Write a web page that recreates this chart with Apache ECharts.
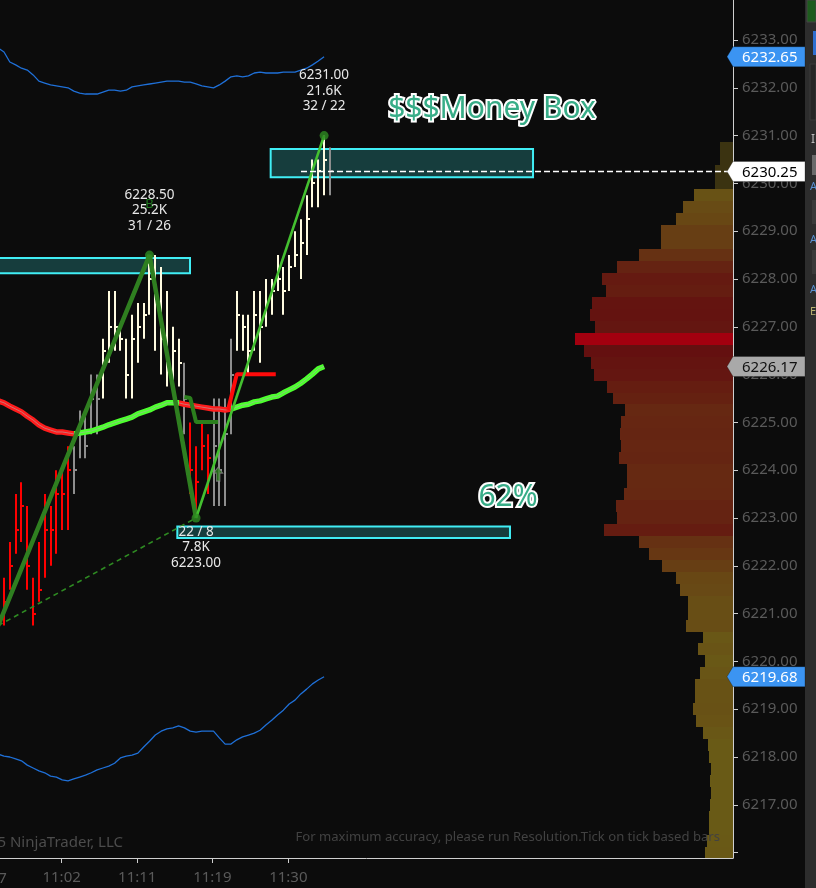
<!DOCTYPE html>
<html><head><meta charset="utf-8">
<script src="https://cdn.jsdelivr.net/npm/echarts@6/dist/echarts.min.js"></script>
<style>html,body{margin:0;padding:0;background:#0c0c0c;overflow:hidden}#chart{width:816px;height:888px}</style>
</head><body><div id="chart"></div>
<script>
// ---------- DATA ----------
// OHLC-style range bars (index 0..56), kinds: u=up(cream) d=down(red) n=neutral(gray)
const barKinds = "dddddddddddd nnnnn uuuuuuuuuuuuuu n dddd nnnn uuuuuuuuuuuuuuuu n".replace(/ /g, '').split('');
const highs = [6221.75,6222.5,6223.5,6223.75,6223.25,6221.75,6222.5,6223.5,6223.25,6224.0,6224.0,6224.5,
  6224.5,6225.25,6225.25,6226.0,6226.0,
  6226.75,6227.75,6227.75,6227.0,6226.75,6227.25,6227.5,6227.5,6228.5,6228.5,6228.25,6227.75,6227.0,6226.75,
  6226.25,
  6225.0,6224.5,6225.0,6224.75,
  6225.5,6225.5,6225.5,6226.75,
  6227.75,6227.25,6227.25,6227.75,6227.75,6228.0,6228.0,6228.5,6228.25,6228.5,6229.0,6229.25,6229.75,6230.5,6230.5,6231.0,
  6230.75];
const lows = [6220.75,6221.5,6222.25,6222.5,6221.5,6220.75,6221.25,6221.75,6222.0,6222.25,6222.75,6222.75,
  6223.5,6224.25,6224.25,6224.75,6224.75,
  6225.5,6226.25,6226.5,6226.5,6225.5,6225.5,6226.25,6226.75,6227.25,6226.5,6226.0,6225.75,6225.75,6225.75,
  6224.75,
  6223.5,6223.0,6224.0,6223.5,
  6223.25,6223.25,6223.25,6224.75,
  6226.5,6226.5,6226.0,6226.5,6226.25,6227.0,6227.25,6227.75,6227.25,6227.75,6228.25,6228.0,6228.5,6229.5,6229.5,6229.75,
  6229.75];
const closes = [6221.25,6222.0,6222.75,6223.25,6222.0,6221.0,6221.5,6222.75,6222.75,6223.5,6223.5,6224.0,
  6224.0,6224.75,6224.5,6225.5,6225.5,
  6226.5,6227.0,6227.0,6226.75,6226.0,6226.75,6227.0,6227.25,6228.0,6227.5,6226.75,6226.25,6226.5,6226.25,
  6225.5,
  6224.0,6223.75,6224.5,6224.25,
  6224.5,6224.0,6224.75,6226.0,
  6227.25,6227.0,6226.5,6227.25,6227.0,6227.5,6227.75,6228.0,6227.75,6228.25,6228.5,6228.75,6229.25,6230.0,6230.25,6230.5,
  6230.25];

// indicator lines, starting at bar index -1
const lineStart = -1;
const upperBand = [6232.83,6232.75,6232.54,6232.48,6232.41,6232.37,6232.27,6232.14,6232.10,6232.06,6232.04,6232.02,6232.00,6231.93,6231.89,6231.87,6231.87,6231.87,6231.91,6231.95,6231.95,6231.93,6231.95,6232.02,6232.04,6232.06,6232.08,6232.10,6232.12,6232.14,6232.14,6232.14,6232.12,6232.12,6232.08,6232.04,6232.02,6232.00,6232.06,6232.14,6232.23,6232.25,6232.23,6232.25,6232.31,6232.33,6232.31,6232.31,6232.31,6232.33,6232.33,6232.33,6232.37,6232.41,6232.48,6232.56,6232.65];
const lowerBand = [6218.06,6218.02,6218.00,6217.96,6217.92,6217.83,6217.77,6217.71,6217.67,6217.60,6217.58,6217.52,6217.50,6217.54,6217.58,6217.62,6217.67,6217.73,6217.77,6217.81,6217.87,6217.98,6218.02,6218.04,6218.08,6218.21,6218.33,6218.46,6218.54,6218.59,6218.61,6218.65,6218.61,6218.54,6218.52,6218.54,6218.54,6218.54,6218.40,6218.27,6218.27,6218.36,6218.42,6218.46,6218.50,6218.56,6218.67,6218.77,6218.88,6218.98,6219.11,6219.19,6219.32,6219.42,6219.53,6219.61,6219.68];
const movingAvg = [6225.45,6225.41,6225.34,6225.28,6225.22,6225.13,6225.05,6224.95,6224.88,6224.84,6224.80,6224.80,6224.78,6224.76,6224.78,6224.80,6224.82,6224.86,6224.90,6224.95,6224.99,6225.03,6225.07,6225.11,6225.18,6225.22,6225.26,6225.32,6225.36,6225.41,6225.41,6225.41,6225.38,6225.36,6225.34,6225.32,6225.30,6225.28,6225.28,6225.26,6225.28,6225.32,6225.36,6225.38,6225.43,6225.45,6225.49,6225.53,6225.55,6225.62,6225.68,6225.74,6225.82,6225.91,6226.01,6226.12,6226.17];
const maTrendBreaks = [12, 30, 39]; // red -> green -> red -> green
const stopLine = [[38.5,6225.26],[40,6226.01],[46.7,6226.01]];
const darkGreenStep = [[31,6225.53],[32,6225.51],[33,6225.01],[36.8,6225.01]];

// zigzag swings
const zigzagMain = [[-1,6220.75],[25,6228.5],[33,6223.0]];
const zigzagLast = [[33,6223.0],[55,6231.0]];
const zigzagDashed = [[-1,6220.75],[33,6223.0]];
const swingDots = [[25,6228.5],[33,6223.0],[55,6231.0]];
const swingLabels = [
  {i:25, p:6228.5, lines:['6228.50','25.2K','31 / 26'], below:false},
  {i:55, p:6231.0, lines:['6231.00','21.6K','32 / 22'], below:false},
  {i:33, p:6223.0, lines:['22 / 8','7.8K','6223.00'], below:true}
];
const arrowSignals = [[36.8, 6223.92]];

// zones [fromIndex, toIndex, topPrice, bottomPrice]
const zones = [[-6, 31.96, 6228.44, 6228.12],[45.82, 90.9, 6230.72, 6230.13],[29.78, 86.94, 6222.82, 6222.58]];
const lastPrice = 6230.25;
const lastPriceFrom = 51.03;

// volume profile (price levels, top -> bottom, step 0.25)
const profileTop = 6230.75;
const profileVolumes = [13,13,18,18,39,50,57,72,72,94,116,131,127,141,143,138,158,149,142,139,126,120,108,112,113,112,114,106,106,109,117,116,129,94,84,71,57,53,45,45,47,30,35,28,33,38,38,40,37,30,25,24,22,23,22,23,24,24,26,28];
const dimLevels = [6230.75, 6230.5, 6230.25, 6230.0];

// axes
const priceTicks = [6216,6217,6218,6219,6220,6221,6222,6223,6224,6225,6226,6227,6228,6229,6230,6231,6232,6233];
const priceLabels = [6217,6218,6219,6220,6221,6222,6223,6224,6225,6226,6227,6228,6229,6230,6231,6232,6233];
const timeTicks = [9.9, 22.9, 35.8, 48.85];
const timeLabels = ['11:02','11:11','11:19','11:30'];
const hiddenTime = {i:-2.8, label:'10:57'};

// price markers on axis
const markers = [
  {p:6232.65, bg:'#3b94f2', fg:'#ffffff'},
  {p:6230.25, bg:'#ffffff', fg:'#000000'},
  {p:6226.17, bg:'#a9a9a9', fg:'#111111'},
  {p:6219.68, bg:'#3b94f2', fg:'#ffffff'}
];
const annotations = [
  {i:83.85, p:6231.54, text:'$$$Money Box'},
  {i:86.6, p:6223.44, text:'62%'}
];

// ---------- CHART ----------
const FONT = '"Noto Sans", "Open Sans", sans-serif';
const kindCode = {u:0, d:1, n:2};
const kindColor = ['#fffbe0', '#ff0000', '#8e8e8e'];
const barData = highs.map((h, i) => [i, h, lows[i], closes[i], kindCode[barKinds[i]]]);
const toLine = arr => arr.map((v, k) => [lineStart + k, v]);
const maxVol = Math.max(...profileVolumes);
const profileData = profileVolumes.map((v, k) => {
  const p = profileTop - 0.25 * k;
  return [v, p, dimLevels.indexOf(p) >= 0 ? 1 : 0];
});
function profColor(v) {
  if (v === maxVol) return '#a3000f';
  const t = Math.min(1, Math.max(0, (v - 25) / 125));
  return 'rgb(' + Math.round(105 - 5 * t) + ',' + Math.round(90 - 75 * t) + ',' + Math.round(22 - 6 * t) + ')';
}

const XMIN = -0.687, XMAX = 125.26;
const option = {
  backgroundColor: '#0c0c0c',
  animation: false,
  grid: {left: 0, top: 0, width: 733, height: 858, show: false},
  xAxis: [
    {type: 'value', min: XMIN, max: XMAX,
      axisLine: {show: true, onZero: false, lineStyle: {color: '#cfcfcf', width: 1}},
      axisTick: {show: true, customValues: timeTicks, length: 5, lineStyle: {color: '#cfcfcf'}},
      axisLabel: {show: true, customValues: timeTicks, color: '#5a5a5a', fontSize: 15, fontFamily: FONT, margin: 12,
        formatter: v => { const k = timeTicks.findIndex(t => Math.abs(t - v) < 1e-6); return k >= 0 ? timeLabels[k] : ''; }},
      splitLine: {show: false}},
    {type: 'value', min: 0, max: 733, inverse: true, show: false, position: 'top'}
  ],
  yAxis: [
    {type: 'value', position: 'right', min: 6215.887, max: 6233.837,
      axisLine: {show: true, onZero: false, lineStyle: {color: '#cfcfcf', width: 1}},
      axisTick: {show: true, customValues: priceTicks, length: 5, lineStyle: {color: '#cfcfcf'}},
      axisLabel: {show: true, customValues: priceLabels, color: '#5a5a5a', fontSize: 15, fontFamily: FONT, margin: 9,
        formatter: v => Number(v).toFixed(2)},
      splitLine: {show: false}}
  ],
  visualMap: [{
    type: 'piecewise', show: false, seriesIndex: [4], dimension: 0,
    pieces: [
      {lt: maTrendBreaks[0], color: '#ff1c1c'},
      {gte: maTrendBreaks[0], lt: maTrendBreaks[1], color: '#4dff2e'},
      {gte: maTrendBreaks[1], lt: maTrendBreaks[2], color: '#ff1c1c'},
      {gte: maTrendBreaks[2], color: '#4dff2e'}
    ]
  }],
  series: [
    // 0 volume profile
    {type: 'custom', xAxisIndex: 1, yAxisIndex: 0, z: 1, data: profileData, clip: true,
      renderItem: (params, api) => {
        const v = api.value(0), p = api.value(1), dim = api.value(2);
        const a = api.coord([v, p + 0.125]);
        const b = api.coord([0, p - 0.125]);
        const x = Math.round(a[0]), y = Math.round(a[1]);
        return {type: 'rect', shape: {x: x, y: y, width: Math.round(b[0]) - x, height: Math.round(b[1]) - y},
          style: {fill: profColor(v), opacity: dim ? 0.5 : 1}};
      }},
    // 1 zones
    {type: 'custom', xAxisIndex: 0, yAxisIndex: 0, z: 2, data: zones, clip: true,
      renderItem: (params, api) => {
        const a = api.coord([api.value(0), api.value(2)]);
        const b = api.coord([api.value(1), api.value(3)]);
        return {type: 'rect', shape: {x: a[0], y: a[1], width: b[0] - a[0], height: b[1] - a[1]},
          style: {fill: '#163d3d', stroke: '#40eef5', lineWidth: 2}};
      }},
    // 2 upper band
    {type: 'line', data: toLine(upperBand), symbol: 'none', z: 3, lineStyle: {color: '#1f70d8', width: 1.3}},
    // 3 lower band
    {type: 'line', data: toLine(lowerBand), symbol: 'none', z: 3, lineStyle: {color: '#1f70d8', width: 1.3}},
    // 4 moving average (colored by trend)
    {type: 'line', data: toLine(movingAvg), symbol: 'none', z: 6, lineStyle: {width: 5.5}},
    // 5 moving average center stripe
    {type: 'line', data: toLine(movingAvg), symbol: 'none', z: 7, lineStyle: {width: 1, color: 'rgba(170,170,170,0.6)'}},
    // 6 bars
    {type: 'custom', xAxisIndex: 0, yAxisIndex: 0, z: 5, data: barData, clip: true,
      renderItem: (params, api) => {
        const i = api.value(0), hi = api.value(1), lo = api.value(2), cl = api.value(3), k = api.value(4);
        const a = api.coord([i, hi]), b = api.coord([i, lo]), c = api.coord([i, cl]);
        const col = kindColor[k];
        const x = Math.round(a[0]);
        return {type: 'group', children: [
          {type: 'rect', shape: {x: x - 1, y: a[1], width: 2, height: b[1] - a[1]}, style: {fill: col}},
          {type: 'rect', shape: {x: x + 1, y: Math.round(c[1]) - 1, width: 2, height: 2}, style: {fill: col}}
        ]};
      }},
    // 7 stop line
    {type: 'line', data: stopLine, symbol: 'none', z: 8, lineStyle: {color: '#ff0a0a', width: 4}},
    // 8 dark green step
    {type: 'line', data: darkGreenStep, symbol: 'none', z: 8, lineStyle: {color: '#2b7f1d', width: 4}},
    // 9 zigzag dashed
    {type: 'line', data: zigzagDashed, symbol: 'none', z: 9, lineStyle: {color: '#2e8a22', width: 1.6, type: [5, 4]}},
    // 10 zigzag main
    {type: 'line', data: zigzagMain, symbol: 'none', z: 10, lineStyle: {color: '#2f7f20', width: 4.5}},
    // 11 zigzag last leg
    {type: 'line', data: zigzagLast, symbol: 'none', z: 10, lineStyle: {color: '#44c030', width: 2.6}},
    // 12 swing dots
    {type: 'scatter', data: swingDots, symbol: 'circle', symbolSize: 9, z: 11, itemStyle: {color: '#2e8b22'}},
    // 13 arrow signals
    {type: 'scatter', data: arrowSignals, z: 11, symbol: 'path://M5,0 L10,6 L7,6 L7,14 L3,14 L3,6 L0,6 Z', symbolSize: [9, 14],
      itemStyle: {color: '#2f7f20', borderColor: '#8a8a8a', borderWidth: 1}},
    // 14 last price dashed line
    {type: 'line', data: [[lastPriceFrom, lastPrice], [XMAX, lastPrice]], symbol: 'none', z: 12,
      lineStyle: {color: '#ffffff', width: 1.6, type: [6, 3]}}
  ]
};

const chart = echarts.init(document.getElementById('chart'), null, {renderer: 'canvas'});
chart.setOption(option);

const px = (i, p) => chart.convertToPixel({xAxisIndex: 0, yAxisIndex: 0}, [i, p]);
const g = [];
// swing labels
swingLabels.forEach(s => {
  const pt = px(s.i, s.p);
  const dy0 = s.below ? 14 : -60;
  s.lines.forEach((t, k) => g.push({type: 'text', x: pt[0], y: pt[1] + dy0 + k * 15.5, z: 50,
    style: {text: t, fill: '#e8e8e8', font: '13.5px ' + FONT, textAlign: 'center', textVerticalAlign: 'middle', verticalAlign: 'middle'}}));
});
// small signal letter near peak
{
  const pt = px(swingLabels[0].i, swingLabels[0].p);
  g.push({type: 'text', x: pt[0], y: pt[1] - 51, z: 49,
    style: {text: 'B', fill: '#1f7a1f', font: '13px ' + FONT, textAlign: 'center', textVerticalAlign: 'middle', verticalAlign: 'middle'}});
}
// big annotations
annotations.forEach(a => {
  const pt = px(a.i, a.p);
  g.push({type: 'text', x: pt[0], y: pt[1], z: 60,
    style: {text: a.text, fill: '#38ad88', stroke: '#ffffff', lineWidth: 4, font: '30px ' + FONT,
      textAlign: 'center', textVerticalAlign: 'middle', verticalAlign: 'middle',
      shadowBlur: 3, shadowColor: 'rgba(0,0,0,0.6)', shadowOffsetX: 1, shadowOffsetY: 2}});
});
// hidden (clipped) time label
{
  const pt = px(hiddenTime.i, 6216);
  g.push({type: 'text', x: pt[0], y: 879, z: 20,
    style: {text: hiddenTime.label, fill: '#5a5a5a', font: '15px ' + FONT, textAlign: 'center', textVerticalAlign: 'middle', verticalAlign: 'middle'}});
}
// watermark texts
g.push({type: 'text', x: 123, y: 843, z: 20, style: {text: '© 2025 NinjaTrader, LLC', fill: '#4c4c4c', font: '15px ' + FONT, textAlign: 'right', textVerticalAlign: 'middle', verticalAlign: 'middle'}});
g.push({type: 'text', x: 720, y: 837, z: 20, style: {text: 'For maximum accuracy, please run Resolution.Tick on tick based bars', fill: '#424242', font: '13.1px ' + FONT, textAlign: 'right', textVerticalAlign: 'middle', verticalAlign: 'middle'}});
// right UI strip
g.push({type: 'rect', shape: {x: 805, y: 0, width: 11, height: 888}, style: {fill: '#2d2d2d'}, z: 30});
g.push({type: 'rect', shape: {x: 807, y: 0, width: 9, height: 22}, style: {fill: '#1e5c1e', stroke: '#444', lineWidth: 1}, z: 31});
g.push({type: 'rect', shape: {x: 813, y: 31, width: 3, height: 24}, style: {fill: '#2f6fd0'}, z: 31});
g.push({type: 'rect', shape: {x: 810, y: 64, width: 6, height: 56}, style: {fill: '#262626', stroke: '#3a3a3a', lineWidth: 1}, z: 31});
g.push({type: 'text', x: 811, y: 140, z: 31, style: {text: 'I', fill: '#bbbbbb', font: '12px ' + FONT, textVerticalAlign: 'middle', verticalAlign: 'middle'}});
g.push({type: 'rect', shape: {x: 812, y: 155, width: 4, height: 20}, style: {fill: '#6a6a6a'}, z: 31});
[187, 240, 290].forEach(y => g.push({type: 'text', x: 810, y: y, z: 31, style: {text: 'A', fill: '#5a8fd0', font: '11px ' + FONT, textVerticalAlign: 'middle', verticalAlign: 'middle'}}));
[200, 250].forEach(y => g.push({type: 'rect', shape: {x: 812, y: y, width: 4, height: 24}, style: {fill: '#3a3a3a'}, z: 31}));
g.push({type: 'text', x: 810, y: 312, z: 31, style: {text: 'E', fill: '#b8b070', font: '11px ' + FONT, textVerticalAlign: 'middle', verticalAlign: 'middle'}});
// price markers on axis
markers.forEach(m => {
  const y = px(0, m.p)[1];
  g.push({type: 'polygon', z: 40, shape: {points: [[727, y], [733, y - 10], [805, y - 10], [805, y + 10], [733, y + 10]]},
    style: {fill: m.bg, stroke: 'rgba(0,0,0,0.25)', lineWidth: 1}});
  g.push({type: 'text', x: 742, y: y + 1, z: 41,
    style: {text: m.p.toFixed(2), fill: m.fg, font: '15px ' + FONT, textAlign: 'left', textVerticalAlign: 'middle', verticalAlign: 'middle'}});
});
chart.setOption({graphic: {elements: g}});
</script>
</body></html>
